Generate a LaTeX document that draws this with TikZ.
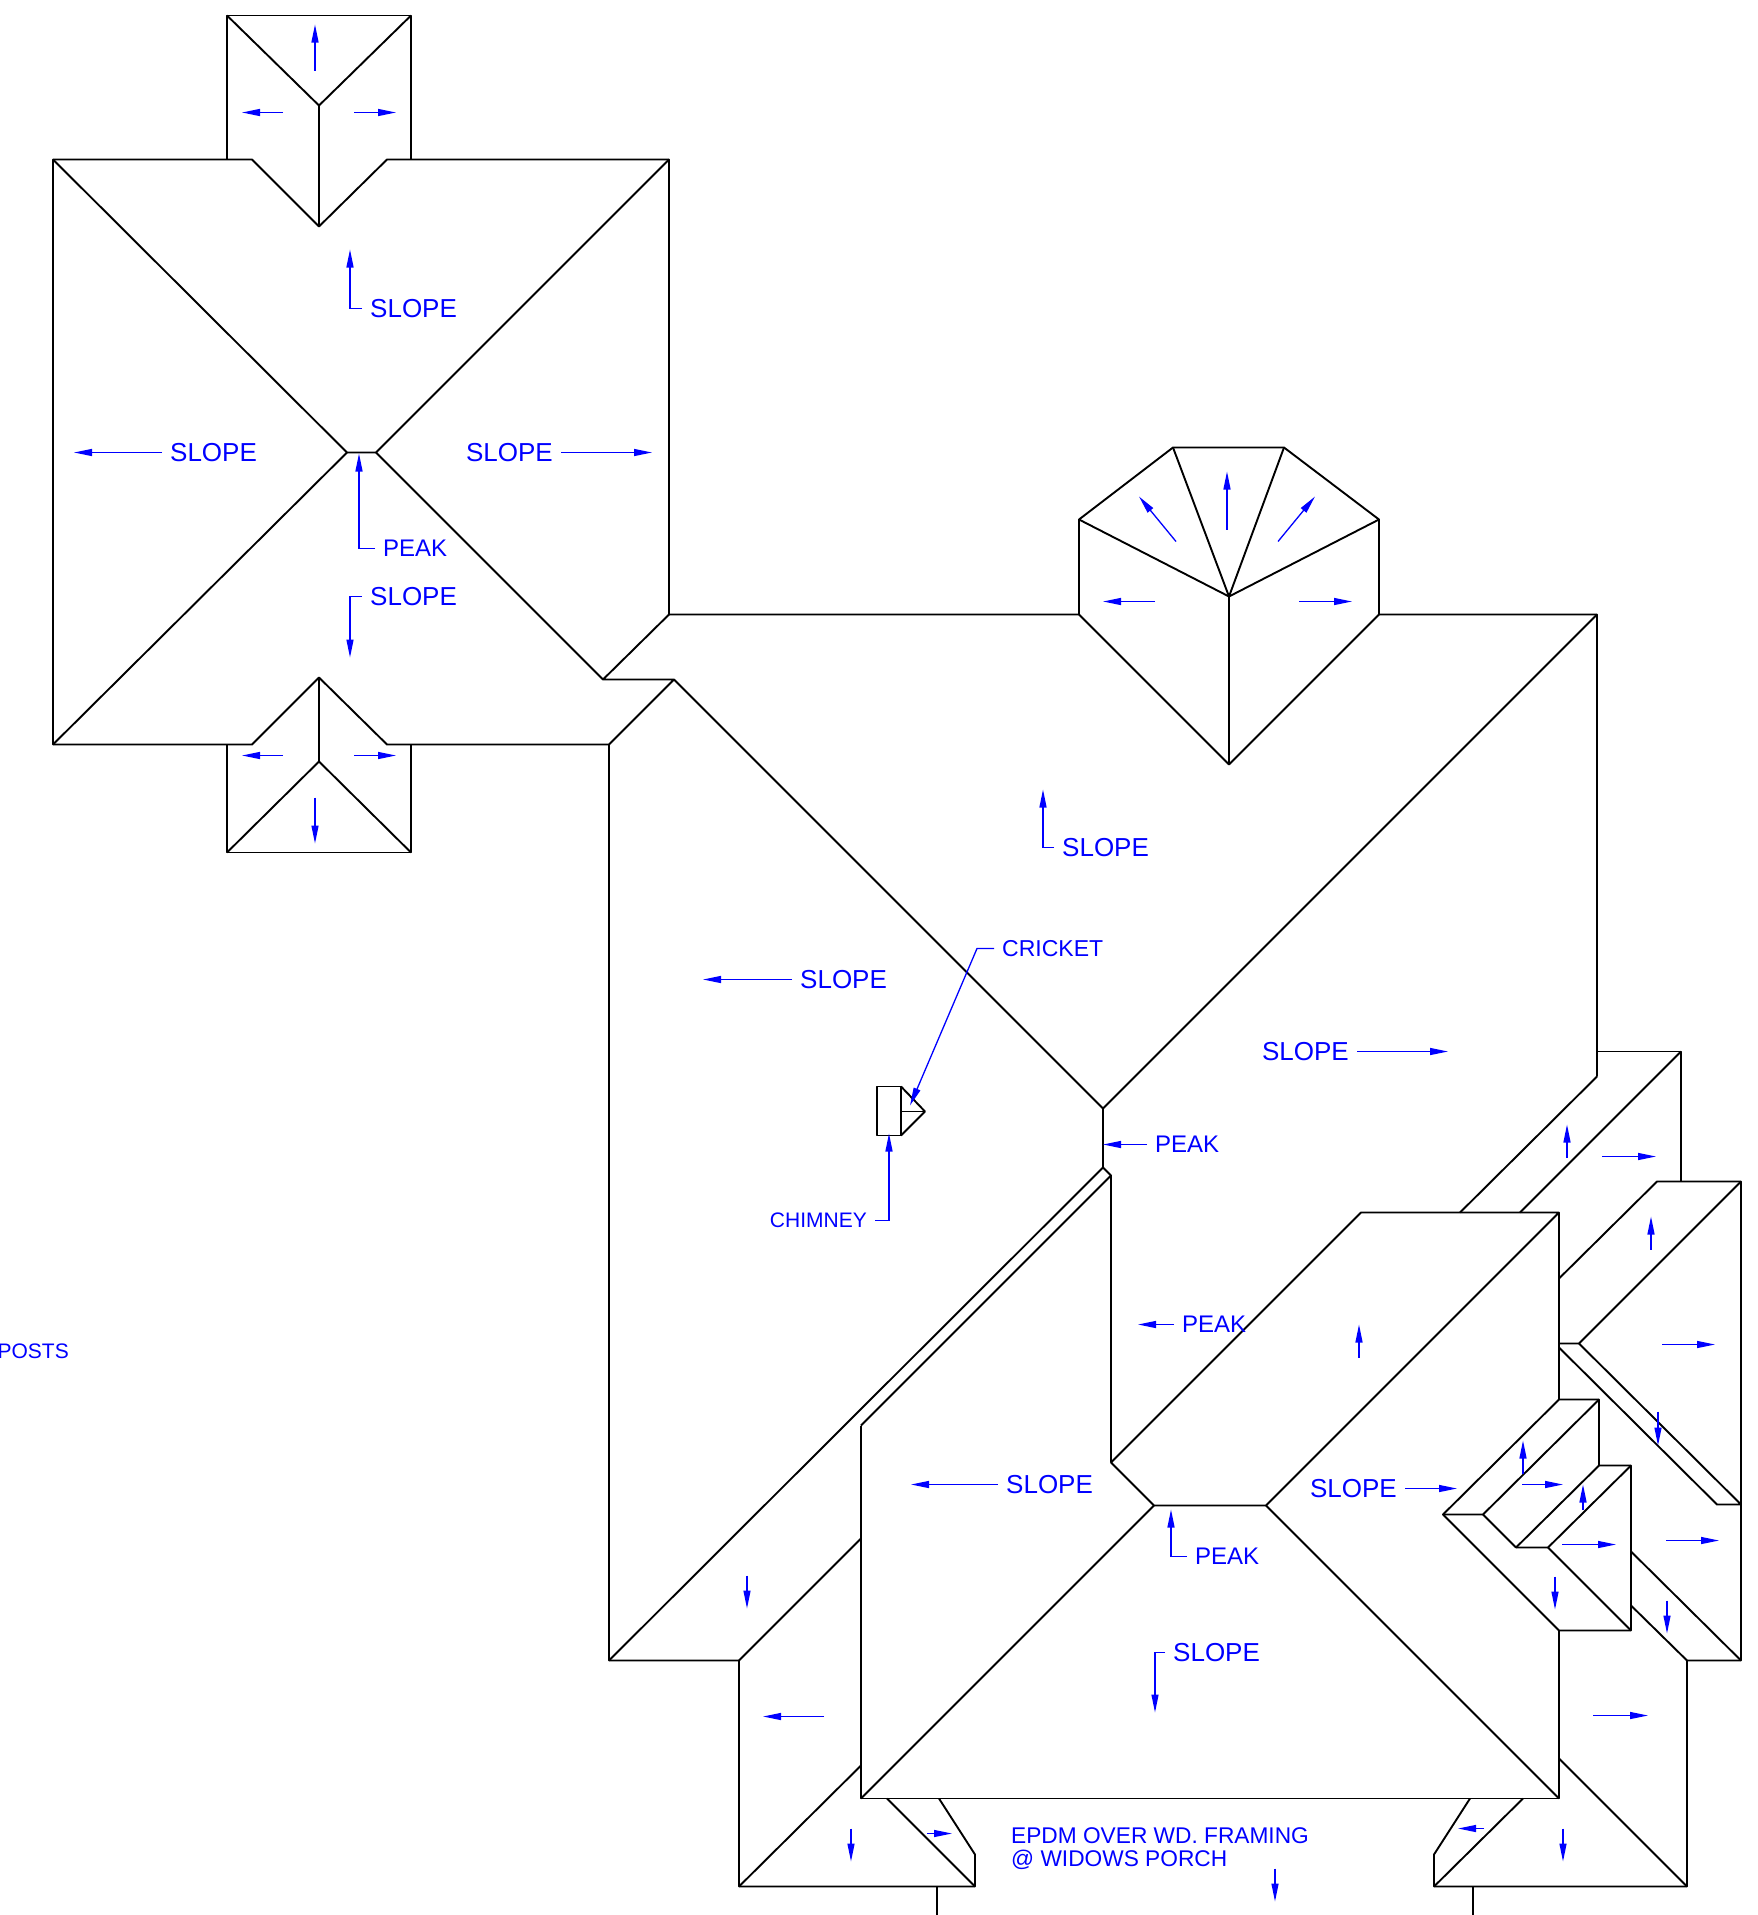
\documentclass[tikz,border=0pt]{standalone}
\usepackage{fontspec}
\setmainfont{Liberation Sans}
\usetikzlibrary{calc,arrows.meta}
\tikzset{
	roofline/.style={black,line width=1.9pt,line join=round},
	slopearrow/.style={blue,line width=1.3pt,-{Triangle[length=18pt,width=7pt]}},
	notetext/.style={blue,inner ysep=0pt,inner xsep=8pt,font=\fontsize{26}{30}\selectfont},
	peaktext/.style={notetext,font=\fontsize{24}{28}\selectfont},
	smalltext/.style={notetext,font=\fontsize{21}{25}\selectfont}
}

\begin{document}
\begin{tikzpicture}[x=1pt,y=-1pt]
	\useasboundingbox (0,-0.5) rectangle (1757,1914.5);
	
	\begin{scope}[roofline]
	%north wing
	\draw (227,159) -- (227,15) -- (411,15) -- (411,159);
	\draw (227,15) -- (319,105) -- (411,15);
	\draw (319,105) -- (319,226);
	\draw (53,159) -- (252,159) -- (319,226) -- (387,159) -- (669,159) -- (669,614) -- (603,679) -- (674,679) -- (609,744) -- (387,744) -- (319,677) -- (252,744) -- (53,744) -- cycle;
	\draw (53,159) -- (347,452) -- (376,452) -- (669,159);
	\draw (53,744) -- (347,452);
	\draw (376,452) -- (603,679);
	\draw (319,677) -- (319,761);
	\draw (227,744) -- (227,852) -- (411,852) -- (411,744);
	\draw (227,852) -- (319,761) -- (411,852);
	%bay
	\draw (669,614) -- (1079,614) -- (1079,519) -- (1173,447) -- (1284,447) -- (1379,519) -- (1379,614) -- (1597,614) -- (1597,1076);
	\draw (1079,519) -- (1229,596) -- (1379,519);
	\draw (1173,447) -- (1229,596) -- (1284,447);
	\draw (1079,614) -- (1229,764) -- (1379,614);
	\draw (1229,596) -- (1229,764);
	%main roof
	\draw (1597,614) -- (1103,1108) -- (1103,1167) -- (1111,1175) -- (1111,1462);
	\draw (674,679) -- (1103,1108);
	\draw (609,744) -- (609,1660) -- (739,1660) -- (739,1886) -- (975,1886) -- (975,1854) -- (939,1798);
	\draw (1103,1167) -- (609,1660);
	\draw (1111,1175) -- (861,1425);
	\draw (739,1660) -- (861,1538);
	\draw (739,1886) -- (861,1765);
	\draw (887,1798) -- (975,1886);
	\draw (937,1886) -- (937,1915);
	%centre gable
	\draw (1559,1630) -- (1559,1798) -- (861,1798) -- (861,1425);
	\draw (1559,1399) -- (1559,1212) -- (1361,1212) -- (1111,1462) -- (1154,1505) -- (1266,1505) -- (1559,1212);
	\draw (861,1798) -- (1154,1505);
	\draw (1266,1505) -- (1559,1798);
	%east wings
	\draw (1597,1076) -- (1460,1212);
	\draw (1597,1051) -- (1681,1051) -- (1681,1181);
	\draw (1681,1051) -- (1520,1212);
	\draw (1559,1278) -- (1657,1181) -- (1741,1181) -- (1741,1660) -- (1687,1660) -- (1687,1886) -- (1434,1886) -- (1434,1854) -- (1470,1798);
	\draw (1741,1181) -- (1579,1343) -- (1559,1343);
	\draw (1579,1343) -- (1741,1504) -- (1717,1504) -- (1559,1347);
	\draw (1631,1551) -- (1741,1660);
	\draw (1631,1605) -- (1687,1660);
	\draw (1434,1886) -- (1523,1798);
	\draw (1559,1758) -- (1687,1886);
	\draw (1473,1886) -- (1473,1915);
	%stepped dormer
	\draw (1559,1399) -- (1599,1399) -- (1599,1465) -- (1631,1465) -- (1631,1630) -- (1559,1630) -- (1443,1514) -- cycle;
	\draw (1443,1514) -- (1483,1514) -- (1599,1399);
	\draw (1483,1514) -- (1516,1547) -- (1599,1465);
	\draw (1516,1547) -- (1548,1547) -- (1631,1465);
	\draw (1548,1547) -- (1631,1630);
	%chimney
	\draw (877,1086) rectangle (901,1135);
	\draw (901,1086) -- (925,1111) -- (901,1135);
	\draw (901,1111) -- (925,1111);
	\end{scope}
	
	\begin{scope}[every node/.style={notetext,anchor=west}]
	\node (slopeN) at (362,308){SLOPE};
	\node (slopeW) at (162,452){SLOPE};
	\node[anchor=east] (slopeE) at (561,452){SLOPE};
	\node[peaktext] (peakN) at (375,548){PEAK};
	\node (slopeS) at (362,596){SLOPE};
	\node (slopeMain) at (1054,847){SLOPE};
	\node (slopeMainW) at (792,979){SLOPE};
	\node[anchor=east] (slopeMainE) at (1357,1051){SLOPE};
	\node[peaktext] (peakMain) at (1147,1144){PEAK};
	\node[peaktext] (peakGable) at (1174,1324){PEAK};
	\node (slopeGableW) at (998,1484){SLOPE};
	\node[anchor=east] (slopeGableE) at (1405,1488){SLOPE};
	\node[peaktext] (peakFront) at (1187,1556){PEAK};
	\node (slopeFront) at (1165,1652){SLOPE};
	\node[smalltext,font=\fontsize{23}{27}\selectfont] (cricket) at (994,948){CRICKET};
	\node[smalltext,anchor=east] (chimney) at (875,1220){CHIMNEY};
	\node[smalltext,anchor=east,inner xsep=0pt] (posts) at (69,1351){POSTS};
	\node[font=\fontsize{22.7}{23}\selectfont,align=left,inner xsep=0pt] (epdm) at (1011,1848){EPDM OVER WD. FRAMING\\@ WIDOWS PORCH};
	\end{scope}
	
	\coordinate (tipN) at (350,249);
	\coordinate (tipW) at (74,452);
	\coordinate (tipE) at (652,452);
	\coordinate (tipPeakN) at (359,453);
	\coordinate (tipS) at (350,657);
	\coordinate (tipMain) at (1043,789);
	\coordinate (tipMainW) at (703,979);
	\coordinate (tipMainE) at (1448,1051);
	\coordinate (tipPeakMain) at (1103,1144);
	\coordinate (tipPeakGable) at (1138,1324);
	\coordinate (tipGableW) at (911,1484);
	\coordinate (tipGableE) at (1457,1488);
	\coordinate (tipPeakFront) at (1171,1509);
	\coordinate (tipFront) at (1155,1712);
	\coordinate (tipChimney) at (889,1133);
	\coordinate (tipCricket) at (910,1105);
	\coordinate (bendCricket) at (977,948);
	
	\begin{scope}[slopearrow]
	%labelled
	\draw (slopeN.west) -| (tipN);
	\draw (slopeW.west) -- (tipW);
	\draw (slopeE.east) -- (tipE);
	\draw (peakN.west) -| (tipPeakN);
	\draw (slopeS.west) -| (tipS);
	\draw (slopeMain.west) -| (tipMain);
	\draw (slopeMainW.west) -- (tipMainW);
	\draw (slopeMainE.east) -- (tipMainE);
	\draw (peakMain.west) -- (tipPeakMain);
	\draw (peakGable.west) -- (tipPeakGable);
	\draw (slopeGableW.west) -- (tipGableW);
	\draw (slopeGableE.east) -- (tipGableE);
	\draw (peakFront.west) -| (tipPeakFront);
	\draw (slopeFront.west) -| (tipFront);
	\draw (chimney.east) -| (tipChimney);
	\draw (cricket.west) -- (bendCricket) -- (tipCricket);
	%free arrows
	\draw (315,70) -- (315,24);
	\draw (283,112) -- (242,112);
	\draw (354,112) -- (396,112);
	\draw (283,755) -- (242,755);
	\draw (354,755) -- (396,755);
	\draw (315,797) -- (315,843);
	\draw (1227,529) -- (1227,471);
	\draw (1176,541) -- (1139,496);
	\draw (1278,541) -- (1315,496);
	\draw (1155,601) -- (1103,601);
	\draw (1299,601) -- (1352,601);
	\draw (1359,1357) -- (1359,1324);
	\draw (824,1716) -- (763,1716);
	\draw (1593,1715) -- (1648,1715);
	\draw (747,1575) -- (747,1608);
	\draw (851,1828) -- (851,1861);
	\draw (927,1833) -- (952,1833);
	\draw (1484,1828) -- (1458,1828);
	\draw (1563,1828) -- (1563,1861);
	\draw (1275,1868) -- (1275,1901);
	\draw (1567,1157) -- (1567,1124);
	\draw (1602,1156) -- (1656,1156);
	\draw (1651,1249) -- (1651,1216);
	\draw (1662,1344) -- (1715,1344);
	\draw (1658,1411) -- (1658,1445);
	\draw (1666,1540) -- (1719,1540);
	\draw (1667,1600) -- (1667,1633);
	\draw (1523,1473) -- (1523,1440);
	\draw (1522,1484) -- (1563,1484);
	\draw (1583,1509) -- (1583,1484);
	\draw (1562,1544) -- (1616,1544);
	\draw (1555,1576) -- (1555,1609);
	\end{scope}
\end{tikzpicture}
\end{document}
